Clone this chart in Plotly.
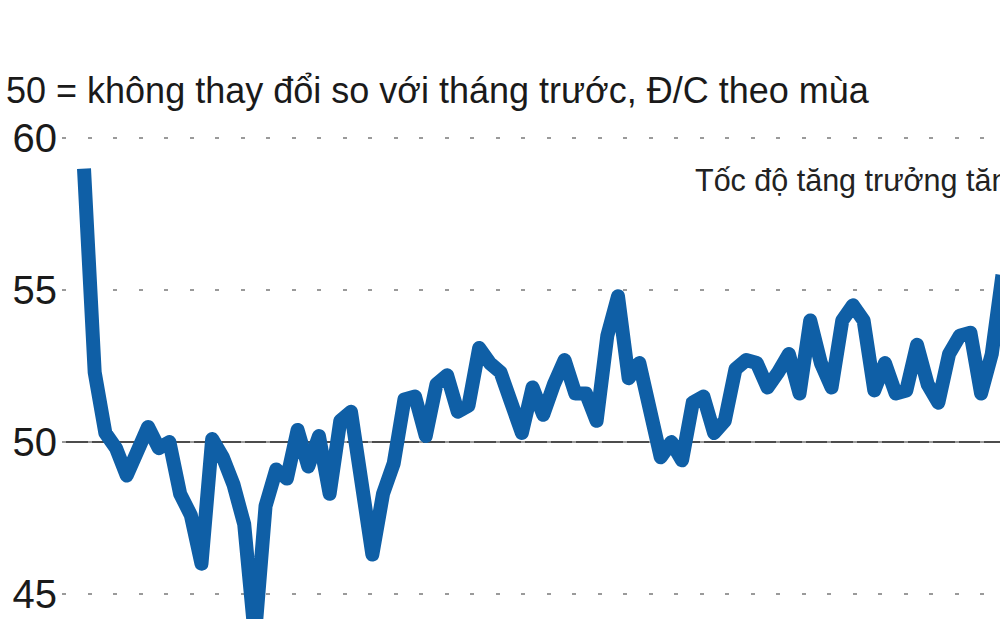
import plotly.graph_objects as go

# Chỉ số PMI hàng tháng, bắt đầu từ 03/2011
pmi = [
    59.0, 52.3, 50.3, 49.8, 48.9, 49.7, 50.5, 49.8, 50.0, 48.3,
    47.6, 46.0, 50.1, 49.5, 48.6, 47.3, 43.6, 47.9, 49.1, 48.8,
    50.4, 49.2, 50.2, 48.3, 50.7, 51.0, 48.7, 46.3, 48.3, 49.3,
    51.4, 51.5, 50.2, 51.9, 52.2, 51.0, 51.2, 53.1, 52.6, 52.3,
    51.3, 50.3, 51.8, 50.9, 51.9, 52.7, 51.6, 51.6, 50.7, 53.5,
    54.8, 52.1, 52.6, 51.0, 49.5, 50.0, 49.4, 51.3, 51.5, 50.3,
    50.7, 52.4, 52.7, 52.6, 51.8, 52.3, 52.9, 51.6, 54.0, 52.6,
    51.8, 54.0, 54.5, 54.0, 51.7, 52.6, 51.6, 51.7, 53.2, 51.9,
    51.3, 52.9, 53.5, 53.6, 51.6, 52.9, 55.5,
]
month_idx = list(range(len(pmi)))

y_ticks = [45, 50, 55, 60]
y_labels = ["45", "50", "55", "60"]
subtitle = "50 = không thay đổi so với tháng trước, Đ/C theo mùa"
note = "Tốc độ tăng trưởng tăng"

FONT = "Liberation Sans, Arial, sans-serif"
BLUE = "#0f5fa6"

fig = go.Figure()
fig.add_trace(go.Scatter(
    x=month_idx,
    y=pmi,
    mode="lines",
    line=dict(color=BLUE, width=14),
    hoverinfo="y",
    showlegend=False,
))

# đường 50 màu đen
fig.add_hline(y=50, line=dict(color="#111111", width=1.5), layer="below")

fig.add_annotation(
    x=57.0, y=58.62, xref="x", yref="y",
    text=note, showarrow=False,
    xanchor="left", yanchor="middle",
    font=dict(family=FONT, size=30.5, color="#222222"),
)

fig.update_layout(
    width=1000,
    height=619,
    margin=dict(l=62, r=0, t=122.8, b=0),
    paper_bgcolor="white",
    plot_bgcolor="white",
    title=dict(
        text=subtitle,
        xref="container", yref="container",
        x=0.006, y=1 - 90 / 619,
        xanchor="left", yanchor="middle",
        font=dict(family=FONT, size=36, color="#1a1a1a"),
    ),
    xaxis=dict(
        range=[-2.06, 85.77],
        showgrid=False, zeroline=False, showline=False,
        showticklabels=False, ticks="",
    ),
    yaxis=dict(
        range=[44.18, 60.5],
        tickvals=y_ticks,
        ticktext=y_labels,
        showgrid=True,
        gridcolor="#9a9a9a",
        gridwidth=2,
        griddash="4px,21.5px",
        zeroline=False, showline=False, ticks="",
        ticklabelstandoff=4,
        tickfont=dict(family=FONT, size=40, color="#1a1a1a"),
    ),
)

# bỏ lề trang và bo tròn các góc của đường
post = """
document.body.style.margin = '0';
document.body.style.overflow = 'hidden';
document.querySelectorAll('.scatterlayer path.js-line').forEach(function (p) {
    p.setAttribute('stroke-linejoin', 'round');
    p.style.strokeLinejoin = 'round';
});
"""

fig.write_html("out.html", post_script=post, config={"displayModeBar": False})
